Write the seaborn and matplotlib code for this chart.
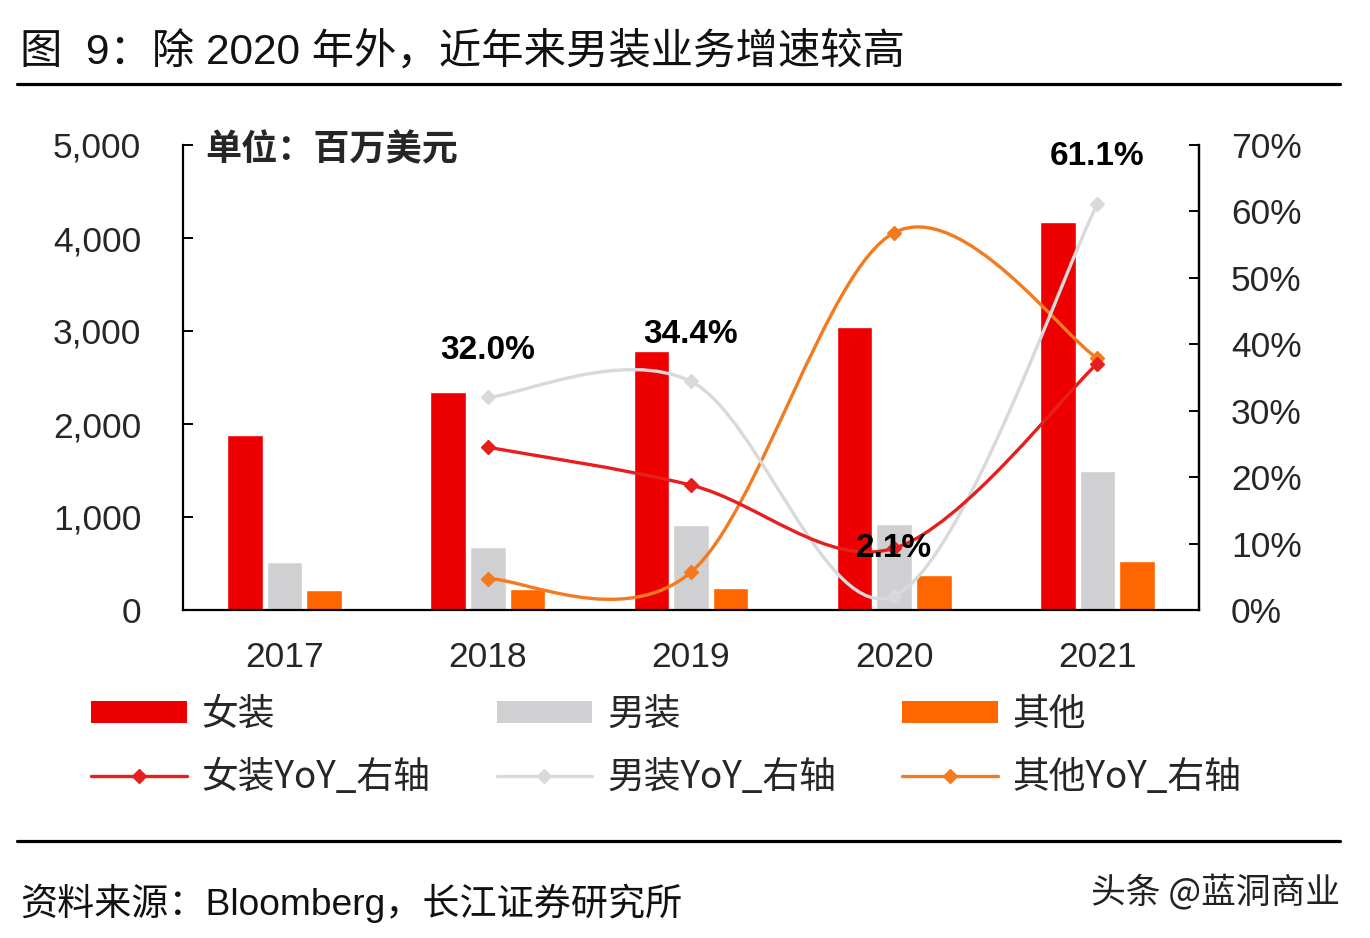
import numpy as np
import pandas as pd
import matplotlib
matplotlib.use('Agg')
import matplotlib.pyplot as plt
import seaborn as sns
from matplotlib.path import Path
from matplotlib.patches import PathPatch, Patch
from matplotlib.lines import Line2D
from matplotlib.ticker import FixedLocator, FuncFormatter

# data (US$ mn / %)
years = ['2017', '2018', '2019', '2020', '2021']
series = ['女装', '男装', '其他']
women = [1882, 2344, 2785, 3043, 4172]
men = [513, 677, 910, 929, 1497]
other = [215, 226, 238, 375, 530]

yoy_years = ['2018', '2019', '2020', '2021']
women_yoy = [24.5, 18.8, 9.3, 37.1]
men_yoy = [32.0, 34.4, 2.1, 61.1]
other_yoy = [4.7, 5.7, 56.8, 37.9]
men_yoy_labels = ['32.0%', '34.4%', '2.1%', '61.1%']

bar_colors = ['#EE0000', '#D0D0D3', '#FF6600']
line_colors = ['#E61E1E', '#D9D9DC', '#F47A1F']
yoy_names = ['女装YoY_右轴', '男装YoY_右轴', '其他YoY_右轴']

sns.set_style('white')
plt.rcParams['font.family'] = ['Liberation Sans', 'Noto Sans CJK SC', 'DejaVu Sans']
plt.rcParams['axes.unicode_minus'] = False

W, H = 1370, 938
fig = plt.figure(figsize=(W / 100, H / 100), dpi=100)
fig.patch.set_facecolor('white')

def fx(px):
    return px / W

def fy(py):
    return 1 - py / H

ax = fig.add_axes([fx(183), fy(610), fx(1199) - fx(183), fy(145) - fy(610)])

df = pd.DataFrame({
    'year': years * 3,
    'series': [s for s in series for _ in years],
    'value': women + men + other,
})
sns.barplot(data=df, x='year', y='value', hue='series', order=years,
            hue_order=series, palette=bar_colors, width=0.585, gap=0.1,
            saturation=1, legend=False, ax=ax, zorder=2)

ax.set_xlim(-0.5, 4.5)
ax.set_ylim(0, 5000)
ax.set_xlabel('')
ax.set_ylabel('')
ax.yaxis.set_major_locator(FixedLocator(range(0, 5001, 1000)))
ax.yaxis.set_major_formatter(FuncFormatter(lambda v, p: f'{int(v):,}'))
ax.xaxis.set_minor_locator(FixedLocator([0.5, 1.5, 2.5, 3.5]))
ax.tick_params(axis='x', which='major', length=0, pad=22, labelsize=25.5)
ax.tick_params(axis='x', which='minor', length=7, width=1.4, direction='in', color='black')
ax.tick_params(axis='y', length=7, width=1.4, direction='in', pad=30, labelsize=25.5, color='black')
for s in ['left', 'bottom', 'right']:
    ax.spines[s].set_visible(True)
    ax.spines[s].set_color('black')
    ax.spines[s].set_linewidth(1.6)
ax.spines['top'].set_visible(False)

ax2 = ax.twinx()
ax2.set_ylim(0, 70)
ax2.yaxis.set_major_locator(FixedLocator(range(0, 71, 10)))
ax2.yaxis.set_major_formatter(FuncFormatter(lambda v, p: f'{int(v)}%'))
ax2.tick_params(axis='y', length=7, width=1.4, direction='in', pad=23, labelsize=25.5, color='black')
for s in ['left', 'bottom', 'top']:
    ax2.spines[s].set_visible(False)
ax2.spines['right'].set_color('black')
ax2.spines['right'].set_linewidth(1.6)


def smooth_path(xs, ys):
    # excel-style smoothed line: cubic bezier through the points
    pts = np.column_stack([xs, ys]).astype(float)
    verts = [pts[0]]
    codes = [Path.MOVETO]
    n = len(pts)
    for i in range(n - 1):
        p0 = pts[i - 1] if i > 0 else pts[i]
        p1 = pts[i]
        p2 = pts[i + 1]
        p3 = pts[i + 2] if i + 2 < n else pts[i + 1]
        c1 = p1 + (p2 - p0) / 6
        c2 = p2 - (p3 - p1) / 6
        verts += [c1, c2, p2]
        codes += [Path.CURVE4] * 3
    return Path(verts, codes)


xpos = [years.index(y) for y in yoy_years]
for vals, col in zip([other_yoy, men_yoy, women_yoy], [line_colors[2], line_colors[1], line_colors[0]]):
    patch = PathPatch(smooth_path(xpos, vals), facecolor='none', edgecolor=col,
                      lw=2.4, zorder=3, capstyle='round')
    ax2.add_patch(patch)
    ax2.plot(xpos, vals, ls='none', marker='D', ms=7, color=col, mec=col, zorder=4)

for x, v, lab in zip(xpos, men_yoy, men_yoy_labels):
    ax2.annotate(lab, (x, v), xytext=(0, 34), textcoords='offset points',
                 ha='center', va='center', fontsize=24, fontweight='bold',
                 color='black', zorder=6)

fig.text(fx(205), fy(150), '单位：百万美元', fontsize=26, fontweight='bold',
         va='center', ha='left', family=['Noto Sans CJK SC'])

# title and rules
fig.text(fx(20), fy(52), '图  9：除 2020 年外，近年来男装业务增速较高', fontsize=30.5,
         va='center', ha='left', color='#111111')
fig.add_artist(Line2D([fx(17), fx(1340)], [fy(84), fy(84)], color='black', lw=2.3))
fig.add_artist(Line2D([fx(17), fx(1340)], [fy(841), fy(841)], color='black', lw=2.3))
fig.text(fx(20), fy(903), '资料来源：Bloomberg，长江证券研究所', fontsize=26.7,
         va='center', ha='left', color='#111111')
fig.text(fx(1340), fy(893), '头条 @蓝洞商业', fontsize=25, va='center', ha='right',
         color='#222222', family=['Noto Sans CJK SC'])

handles = []
labels = []
for i in range(3):
    handles.append(Patch(facecolor=bar_colors[i], edgecolor='none'))
    labels.append(series[i])
    handles.append(Line2D([0], [0], color=line_colors[i], lw=2.4, marker='D', ms=7))
    labels.append(yoy_names[i])
fig.legend(handles, labels, loc='center left', bbox_to_anchor=(fx(91), fy(746)),
           ncol=3, frameon=False, prop={'family': 'Noto Sans CJK SC', 'size': 26.5},
           handlelength=2.6, handleheight=0.55, handletextpad=0.4,
           columnspacing=1.8, labelspacing=0.66, borderpad=0, borderaxespad=0)

fig.savefig('out.png', dpi=100, facecolor='white')
